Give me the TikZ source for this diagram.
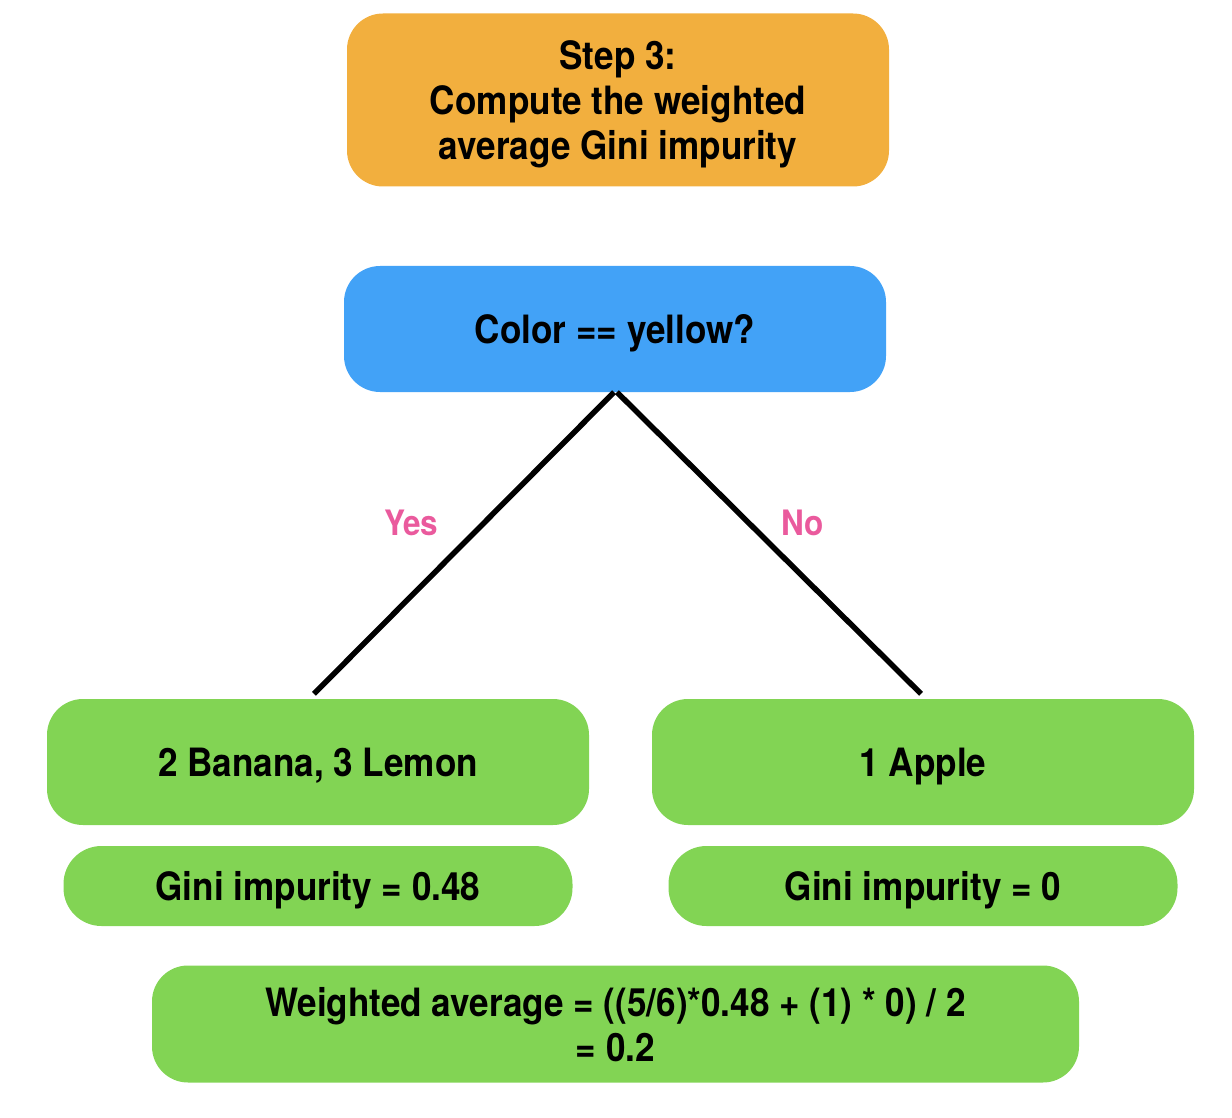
\documentclass[tikz,border=0pt]{standalone}
\usepackage{fontspec}
\setmainfont{TeX Gyre Heros}[FakeStretch=0.9]
\usetikzlibrary{positioning}
\definecolor{stepOrange}{HTML}{F2AF3E}
\definecolor{askBlue}{HTML}{42A2F7}
\definecolor{leafGreen}{HTML}{82D454}
\definecolor{edgePink}{HTML}{EA5A9D}

\begin{document}
\begin{tikzpicture}[x=1pt,y=-1pt,
    box/.style={rounded corners=36pt,minimum width=542pt,
                minimum height=126pt,align=center,inner sep=0pt,text depth=0pt,
                font=\fontsize{39}{45}\selectfont\bfseries},
    gini/.style={box,fill=leafGreen,rounded corners=38pt,
                 minimum width=509pt,minimum height=80pt},
    answer/.style={text=edgePink,font=\fontsize{35}{40}\selectfont\bfseries},
  ]
    \useasboundingbox (0,0) rectangle (1232,1118);
    \node[box,fill=stepOrange,minimum height=173pt] (step) at (618,100)
         {Step 3:\\Compute the weighted\\average Gini impurity};
    \node[box,fill=askBlue]   (ask)  at (615,329) {Color == yellow?};
    \node[box,fill=leafGreen] (yes)  at (318,762) {2 Banana, 3 Lemon};
    \node[box,fill=leafGreen] (no)   at (923,762) {1 Apple};
    \node[gini] (giniyes) at (318,886) {Gini impurity = 0.48};
    \node[gini] (ginino)  at (923,886) {Gini impurity = 0};
    \node[box,fill=leafGreen,minimum width=927pt,minimum height=117pt]
         (avg) at (615.5,1024) {Weighted average = ((5/6)*0.48 + (1) * 0) / 2\\= 0.2};
    \node[answer] (lyes) at (411,523) {Yes};
    \node[answer] (lno)  at (803,523) {No};
    \draw[line width=5.5pt] ([xshift=-1pt]ask.south) -- ([xshift=-4pt,yshift=5pt]yes.north);
    \draw[line width=5.5pt] ([xshift=2pt]ask.south)  -- ([xshift=-2pt,yshift=5pt]no.north);
  \end{tikzpicture}
\end{document}
